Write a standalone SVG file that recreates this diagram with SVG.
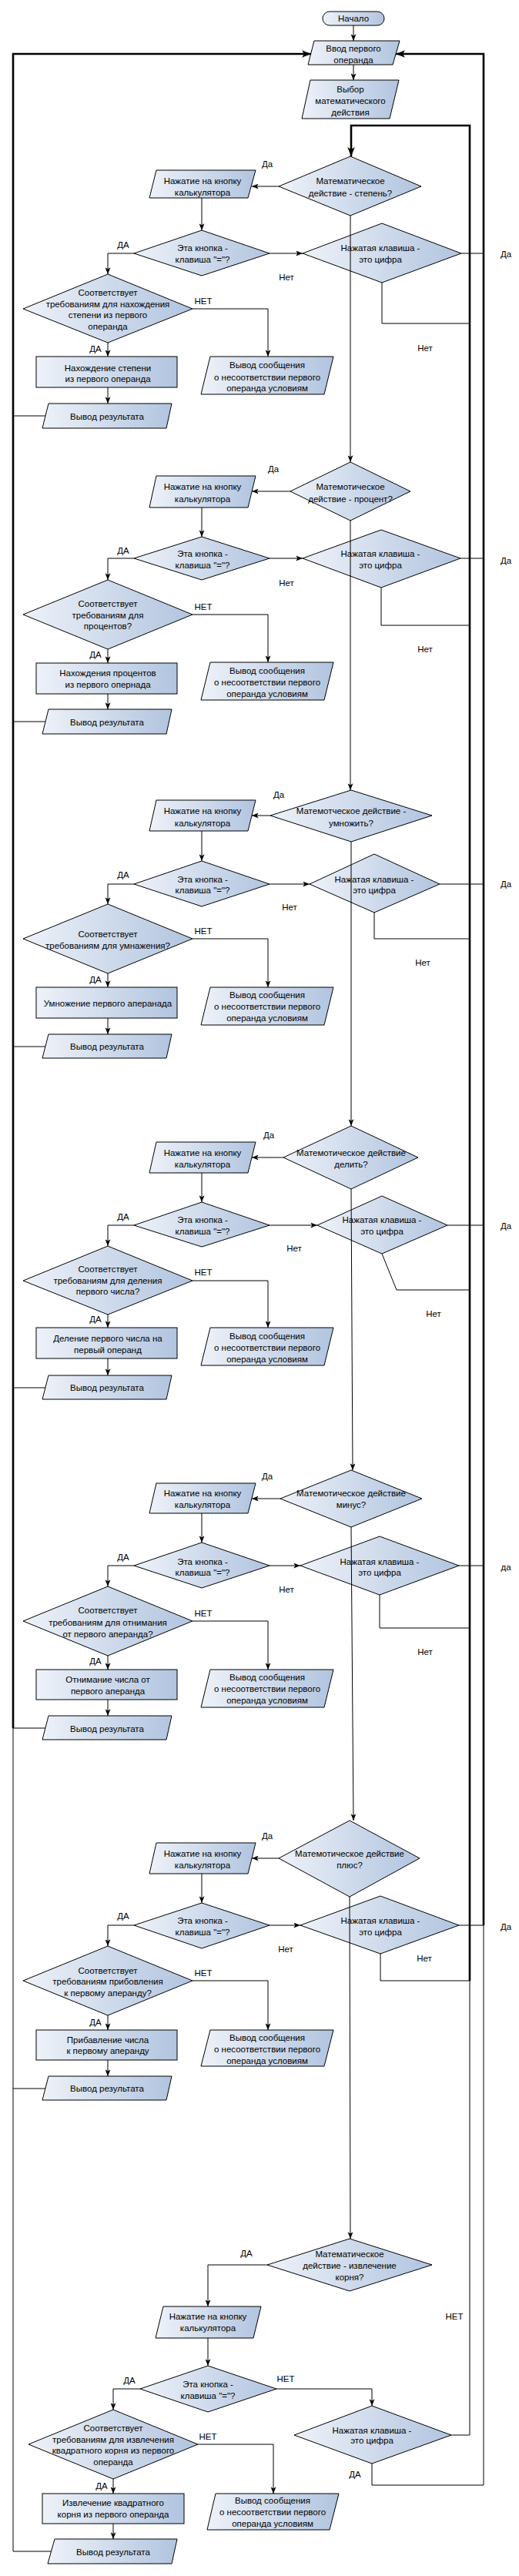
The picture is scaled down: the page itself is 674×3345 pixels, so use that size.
<svg xmlns="http://www.w3.org/2000/svg" width="674" height="3345" viewBox="0 0 674 3345">
<defs>
<linearGradient id="g" x1="0" y1="0" x2="1" y2="0">
<stop offset="0" stop-color="#eef2f9"/>
<stop offset="1" stop-color="#b1c4df"/>
</linearGradient>
<marker id="a" viewBox="0 0 10 8" refX="10" refY="4" markerWidth="9" markerHeight="7" markerUnits="userSpaceOnUse" orient="auto"><path d="M0,0 L10,4 L0,8 L2.5,4 z" fill="#000"/></marker>
<marker id="ak" viewBox="0 0 10 8" refX="10" refY="4" markerWidth="12" markerHeight="10" markerUnits="userSpaceOnUse" orient="auto"><path d="M0,0 L10,4 L0,8 L2.5,4 z" fill="#000"/></marker>
<style>
.n{fill:url(#g);stroke:#000;stroke-width:1}
text{font-family:"Liberation Sans",Arial,sans-serif;font-size:11.5px;fill:#000;text-anchor:middle}
.c{fill:none;stroke:#000;stroke-width:1}
.ca{fill:none;stroke:#000;stroke-width:1;marker-end:url(#a)}
.k{fill:none;stroke:#000;stroke-width:2.6}
.ka{fill:none;stroke:#000;stroke-width:2.6;marker-end:url(#ak)}
</style>
</defs>
<rect width="674" height="3345" fill="#fff"/>

<g id="start"><rect class="n" x="419" y="15" width="80" height="18" rx="9"/><text x="459" y="28">Начало</text></g>
<g id="input"><polygon class="n" points="408,53 519,53 510,84 400,84"/><text x="459" y="67">Ввод первого</text><text x="459" y="82">операнда</text></g>
<g id="choose"><polygon class="n" points="403,104 518,104 506,154 392,154"/><text x="455" y="120">Выбор</text><text x="455" y="135">математического</text><text x="455" y="150">действия</text></g>

<!-- Section 1 -->
<g id="mat1"><polygon class="n" points="455,203 547,242 455,280 362,242"/><text x="455" y="239">Математическое</text><text x="455" y="255">действие - степень?</text></g>
<g id="naz1"><polygon class="n" points="203,221 332,221 322,257 194,257"/><text x="263" y="239">Нажатие на кнопку</text><text x="263" y="254">калькулятора</text></g>
<g id="eta1"><polygon class="n" points="262,299 350,329 262,358 174,329"/><text x="263" y="326">Эта кнопка -</text><text x="263" y="341">клавиша "="?</text></g>
<g id="nazh1"><polygon class="n" points="496,290 599,329 496,367 393,329"/><text x="494" y="326">Нажатая клавиша -</text><text x="494" y="341">это цифра</text></g>
<g id="soot1"><polygon class="n" points="140,356 250,401 140,445 30,401"/><text x="140" y="384">Соответствует</text><text x="140" y="399">требованиям для нахождения</text><text x="140" y="413">степени из первого</text><text x="140" y="428">операнда</text></g>
<g id="vs1"><polygon class="n" points="273,463 433,463 421,512 261,512"/><text x="347" y="478">Вывод сообщения</text><text x="347" y="494">о несоответствии первого</text><text x="347" y="508">операнда условиям</text></g>
<g id="box1"><rect class="n" x="47" y="463" width="183" height="40"/><text x="140" y="482">Нахождение степени</text><text x="140" y="496">из первого операнда</text></g>
<g id="vr1"><polygon class="n" points="63,524 223,524 216,556 55,556"/><text x="139" y="545">Вывод результата</text></g>

<!-- Section 2 -->
<g id="mat2"><polygon class="n" points="455,600 533,638 455,676 377,638"/><text x="455" y="636">Матемотическое</text><text x="455" y="652">действие - процент?</text></g>
<g id="naz2"><polygon class="n" points="203,618 332,618 322,659 194,659"/><text x="263" y="636">Нажатие на кнопку</text><text x="263" y="652">калькулятора</text></g>
<g id="eta2"><polygon class="n" points="262,697 350,725 262,753 174,725"/><text x="263" y="723">Эта кнопка -</text><text x="263" y="738">клавиша "="?</text></g>
<g id="nazh2"><polygon class="n" points="495,688 598,725 495,763 393,725"/><text x="494" y="723">Нажатая клавиша -</text><text x="494" y="738">это цифра</text></g>
<g id="soot2"><polygon class="n" points="140,753 250,798 140,843 30,798"/><text x="140" y="788">Соответствует</text><text x="140" y="803">требованиям для</text><text x="140" y="817">процентов?</text></g>
<g id="vs2"><polygon class="n" points="273,860 433,860 421,909 261,909"/><text x="347" y="875">Вывод сообщения</text><text x="347" y="890">о несоответствии первого</text><text x="347" y="905">операнда условиям</text></g>
<g id="box2"><rect class="n" x="47" y="861" width="183" height="40"/><text x="140" y="878">Нахождения процентов</text><text x="140" y="893">из первого опернада</text></g>
<g id="vr2"><polygon class="n" points="63,921 223,921 216,953 55,953"/><text x="139" y="942">Вывод результата</text></g>

<!-- Section 3 -->
<g id="mat3"><polygon class="n" points="456,1026 561,1059 456,1093 351,1059"/><text x="456" y="1057">Матемотческое действие -</text><text x="456" y="1073">умножить?</text></g>
<g id="naz3"><polygon class="n" points="203,1039 332,1039 322,1079 194,1079"/><text x="263" y="1057">Нажатие на кнопку</text><text x="263" y="1073">калькулятора</text></g>
<g id="eta3"><polygon class="n" points="262,1118 350,1148 262,1177 174,1148"/><text x="263" y="1146">Эта кнопка -</text><text x="263" y="1160">клавиша "="?</text></g>
<g id="nazh3"><polygon class="n" points="486,1109 571,1148 486,1185 402,1148"/><text x="486" y="1146">Нажатая клавиша -</text><text x="486" y="1160">это цифра</text></g>
<g id="soot3"><polygon class="n" points="140,1174 250,1219 140,1264 30,1219"/><text x="140" y="1217">Соответствует</text><text x="140" y="1232">требованиям для умнажения?</text></g>
<g id="vs3"><polygon class="n" points="273,1282 433,1282 421,1331 261,1331"/><text x="347" y="1296">Вывод сообщения</text><text x="347" y="1311">о несоответствии первого</text><text x="347" y="1326">операнда условиям</text></g>
<g id="box3"><rect class="n" x="47" y="1282" width="183" height="40"/><text x="140" y="1307">Умножение первого аперанада</text></g>
<g id="vr3"><polygon class="n" points="63,1343 223,1343 216,1374 55,1374"/><text x="139" y="1363">Вывод результата</text></g>

<!-- Section 4 -->
<g id="mat4"><polygon class="n" points="456,1462 543,1503 456,1544 368,1503"/><text x="456" y="1501">Матемотическое действие</text><text x="456" y="1516">делить?</text></g>
<g id="naz4"><polygon class="n" points="203,1483 332,1483 322,1523 194,1523"/><text x="263" y="1501">Нажатие на кнопку</text><text x="263" y="1516">калькулятора</text></g>
<g id="eta4"><polygon class="n" points="262,1561 350,1591 262,1619 174,1591"/><text x="263" y="1588">Эта кнопка -</text><text x="263" y="1603">клавиша "="?</text></g>
<g id="nazh4"><polygon class="n" points="496,1553 581,1591 496,1628 412,1591"/><text x="496" y="1588">Нажатая клавиша -</text><text x="496" y="1603">это цифра</text></g>
<g id="soot4"><polygon class="n" points="140,1618 250,1663 140,1707 30,1663"/><text x="140" y="1652">Соответствует</text><text x="140" y="1667">требованиям для деления</text><text x="140" y="1681">первого числа?</text></g>
<g id="vs4"><polygon class="n" points="273,1724 433,1724 421,1773 261,1773"/><text x="347" y="1739">Вывод сообщения</text><text x="347" y="1754">о несоответствии первого</text><text x="347" y="1769">операнда условиям</text></g>
<g id="box4"><rect class="n" x="47" y="1724" width="183" height="40"/><text x="140" y="1742">Деление первого числа на</text><text x="140" y="1757">первый операнд</text></g>
<g id="vr4"><polygon class="n" points="63,1786 223,1786 216,1817 55,1817"/><text x="139" y="1806">Вывод результата</text></g>

<!-- Section 5 -->
<g id="mat5"><polygon class="n" points="456,1909 548,1946 456,1983 364,1946"/><text x="456" y="1943">Матемотическое действие</text><text x="456" y="1958">минус?</text></g>
<g id="naz5"><polygon class="n" points="203,1926 332,1926 322,1965 194,1965"/><text x="263" y="1943">Нажатие на кнопку</text><text x="263" y="1958">калькулятора</text></g>
<g id="eta5"><polygon class="n" points="262,2003 350,2033 262,2062 174,2033"/><text x="263" y="2032">Эта кнопка -</text><text x="263" y="2046">клавиша "="?</text></g>
<g id="nazh5"><polygon class="n" points="493,1995 596,2033 493,2071 390,2033"/><text x="493" y="2032">Нажатая клавиша -</text><text x="493" y="2046">это цифра</text></g>
<g id="soot5"><polygon class="n" points="140,2060 250,2105 140,2150 30,2105"/><text x="140" y="2095">Соответствует</text><text x="140" y="2111">требованиям для отнимания</text><text x="140" y="2126">от первого аперанда?</text></g>
<g id="vs5"><polygon class="n" points="273,2168 433,2168 421,2217 261,2217"/><text x="347" y="2182">Вывод сообщения</text><text x="347" y="2197">о несоответствии первого</text><text x="347" y="2212">операнда условиям</text></g>
<g id="box5"><rect class="n" x="47" y="2168" width="183" height="39"/><text x="140" y="2185">Отнимание числа от</text><text x="140" y="2200">первого аперанда</text></g>
<g id="vr5"><polygon class="n" points="63,2228 223,2228 216,2259 55,2259"/><text x="139" y="2249">Вывод результата</text></g>

<!-- Section 6 -->
<g id="mat6"><polygon class="n" points="454,2364 545,2413 454,2463 362,2413"/><text x="454" y="2411">Матемотическое действие</text><text x="454" y="2426">плюс?</text></g>
<g id="naz6"><polygon class="n" points="203,2393 332,2393 322,2433 194,2433"/><text x="263" y="2411">Нажатие на кнопку</text><text x="263" y="2426">калькулятора</text></g>
<g id="eta6"><polygon class="n" points="262,2471 350,2500 262,2530 174,2500"/><text x="263" y="2498">Эта кнопка -</text><text x="263" y="2513">клавиша "="?</text></g>
<g id="nazh6"><polygon class="n" points="494,2462 596,2500 494,2537 390,2500"/><text x="494" y="2498">Нажатая клавиша -</text><text x="494" y="2513">это цифра</text></g>
<g id="soot6"><polygon class="n" points="140,2527 250,2572 140,2617 30,2572"/><text x="140" y="2563">Соответствует</text><text x="140" y="2577">требованиям прибовления</text><text x="140" y="2592">к первому аперанду?</text></g>
<g id="vs6"><polygon class="n" points="273,2636 433,2636 421,2683 261,2683"/><text x="347" y="2650">Вывод сообщения</text><text x="347" y="2665">о несоответствии первого</text><text x="347" y="2680">операнда условиям</text></g>
<g id="box6"><rect class="n" x="47" y="2636" width="183" height="39"/><text x="140" y="2653">Прибавление числа</text><text x="140" y="2667">к первому аперанду</text></g>
<g id="vr6"><polygon class="n" points="63,2696 223,2696 216,2727 55,2727"/><text x="139" y="2716">Вывод результата</text></g>

<!-- Section 7 -->
<g id="mat7"><polygon class="n" points="454,2907 561,2941 454,2975 347,2941"/><text x="454" y="2931">Математическое</text><text x="454" y="2946">действие - извлечение</text><text x="454" y="2961">корня?</text></g>
<g id="naz7"><polygon class="n" points="212,2995 339,2995 329,3036 202,3036"/><text x="270" y="3012">Нажатие на кнопку</text><text x="270" y="3027">калькулятора</text></g>
<g id="eta7"><polygon class="n" points="270,3072 359,3102 270,3132 182,3102"/><text x="270" y="3100">Эта кнопка -</text><text x="270" y="3115">клавиша "="?</text></g>
<g id="nazh7"><polygon class="n" points="483,3124 586,3162 483,3199 382,3162"/><text x="483" y="3160">Нажатая клавиша -</text><text x="483" y="3173">это цифра</text></g>
<g id="soot7"><polygon class="n" points="147,3129 257,3174 147,3219 37,3174"/><text x="147" y="3157">Соответствует</text><text x="147" y="3172">требованиям для извлечения</text><text x="147" y="3186">квадратного корня из первого</text><text x="147" y="3201">операнда</text></g>
<g id="vs7"><polygon class="n" points="280,3238 440,3238 428,3285 269,3285"/><text x="354" y="3251">Вывод сообщения</text><text x="354" y="3266">о несоответствии первого</text><text x="354" y="3281">операнда условиям</text></g>
<g id="box7"><rect class="n" x="55" y="3238" width="184" height="39"/><text x="147" y="3254">Извлечение квадратного</text><text x="147" y="3269">корня из первого операнда</text></g>
<g id="vr7"><polygon class="n" points="71,3297 230,3297 223,3329 62,3329"/><text x="147" y="3318">Вывод результата</text></g>

<g id="connectors">
<path class="ca" d="M459,33 V53"/>
<path class="ca" d="M459,84 V104"/>
<!-- loops -->
<path class="c" d="M17,3313 V2244"/>
<path class="ka" d="M17,2244 V70 H404"/>
<path class="c" d="M628,3227 V2500"/>
<path class="ka" d="M628,2500 V70 H514"/>
<path class="c" d="M610,3162 V2572"/>
<path class="ka" d="M610,2572 V163 H456 V203"/>
<!-- spine -->
<path class="ca" d="M455,280 V600"/>
<path class="ca" d="M455,676 V1026"/>
<path class="ca" d="M456,1093 V1462"/>
<path class="ca" d="M456,1544 L458,1909"/>
<path class="ca" d="M456,1983 L459,2364"/>
<path class="ca" d="M454,2463 L455,2907"/>
<!-- sec1 -->
<path class="ca" d="M362,242 H327"/>
<path class="ca" d="M262,257 V299"/>
<path class="ca" d="M174,329 H140 V356"/>
<path class="ca" d="M350,329 H393"/>
<path class="c" d="M599,329 H628"/>
<path class="c" d="M496,367 V420 H610"/>
<path class="ca" d="M250,401 H348 V463"/>
<path class="ca" d="M140,445 V463"/>
<path class="ca" d="M140,503 V524"/>
<path class="c" d="M59,540 H17"/>
<!-- sec2 -->
<path class="ca" d="M377,638 H327"/>
<path class="ca" d="M262,659 V697"/>
<path class="ca" d="M174,725 H140 V753"/>
<path class="ca" d="M350,725 H393"/>
<path class="c" d="M598,725 H628"/>
<path class="c" d="M495,763 V812 H610"/>
<path class="ca" d="M250,798 H348 V860"/>
<path class="ca" d="M140,843 V861"/>
<path class="ca" d="M140,901 V921"/>
<path class="c" d="M59,937 H17"/>
<!-- sec3 -->
<path class="ca" d="M351,1059 H327"/>
<path class="ca" d="M262,1079 V1118"/>
<path class="ca" d="M174,1148 H140 V1174"/>
<path class="ca" d="M350,1148 H402"/>
<path class="c" d="M571,1148 H628"/>
<path class="c" d="M486,1185 V1219 H610"/>
<path class="ca" d="M250,1219 H348 V1282"/>
<path class="ca" d="M140,1264 V1282"/>
<path class="ca" d="M140,1322 V1343"/>
<path class="c" d="M59,1359 H17"/>
<!-- sec4 -->
<path class="ca" d="M368,1503 H327"/>
<path class="ca" d="M262,1523 V1561"/>
<path class="ca" d="M174,1591 H140 V1618"/>
<path class="ca" d="M350,1591 H412"/>
<path class="c" d="M581,1591 H628"/>
<path class="c" d="M496,1628 L515,1675 H610"/>
<path class="ca" d="M250,1663 H348 V1724"/>
<path class="ca" d="M140,1707 V1724"/>
<path class="ca" d="M140,1764 V1786"/>
<path class="c" d="M59,1802 H17"/>
<!-- sec5 -->
<path class="ca" d="M364,1946 H327"/>
<path class="ca" d="M262,1965 V2003"/>
<path class="ca" d="M174,2033 H140 V2060"/>
<path class="ca" d="M350,2033 H390"/>
<path class="c" d="M596,2033 H628"/>
<path class="c" d="M493,2071 V2114 H610"/>
<path class="ca" d="M250,2105 H348 V2168"/>
<path class="ca" d="M140,2150 V2168"/>
<path class="ca" d="M140,2207 V2228"/>
<path class="c" d="M59,2244 H17"/>
<!-- sec6 -->
<path class="ca" d="M362,2413 H327"/>
<path class="ca" d="M262,2433 V2471"/>
<path class="ca" d="M174,2500 H140 V2527"/>
<path class="ca" d="M350,2500 H390"/>
<path class="c" d="M596,2500 H628"/>
<path class="c" d="M494,2537 V2572 H610"/>
<path class="ca" d="M250,2572 H348 V2636"/>
<path class="ca" d="M140,2617 V2636"/>
<path class="ca" d="M140,2675 V2696"/>
<path class="c" d="M59,2712 H17"/>
<!-- sec7 -->
<path class="ca" d="M347,2941 H270 V2995"/>
<path class="ca" d="M270,3036 V3072"/>
<path class="ca" d="M182,3102 H147 V3129"/>
<path class="ca" d="M359,3102 H483 V3124"/>
<path class="c" d="M586,3162 H610"/>
<path class="c" d="M483,3199 V3227 H628"/>
<path class="ca" d="M257,3174 H355 V3238"/>
<path class="ca" d="M147,3219 V3238"/>
<path class="ca" d="M147,3277 V3297"/>
<path class="c" d="M66,3313 H17"/>
</g>

<g id="labels">
<text x="347" y="217">Да</text><text x="160" y="322">ДА</text><text x="372" y="364">Нет</text><text x="657" y="334">Да</text><text x="552" y="456">Нет</text><text x="264" y="395">НЕТ</text><text x="124" y="457">ДА</text>
<text x="355" y="613">Да</text><text x="160" y="719">ДА</text><text x="372" y="761">Нет</text><text x="657" y="732">Да</text><text x="552" y="847">Нет</text><text x="264" y="792">НЕТ</text><text x="124" y="854">ДА</text>
<text x="362" y="1036">Да</text><text x="160" y="1140">ДА</text><text x="376" y="1182">Нет</text><text x="657" y="1152">Да</text><text x="549" y="1254">Нет</text><text x="264" y="1213">НЕТ</text><text x="124" y="1276">ДА</text>
<text x="349" y="1478">Да</text><text x="160" y="1584">ДА</text><text x="382" y="1625">Нет</text><text x="657" y="1596">Да</text><text x="563" y="1710">Нет</text><text x="264" y="1656">НЕТ</text><text x="124" y="1717">ДА</text>
<text x="347" y="1921">Да</text><text x="160" y="2026">ДА</text><text x="372" y="2068">Нет</text><text x="657" y="2039">да</text><text x="552" y="2149">Нет</text><text x="264" y="2099">НЕТ</text><text x="124" y="2161">ДА</text>
<text x="347" y="2388">Да</text><text x="160" y="2492">ДА</text><text x="371" y="2535">Нет</text><text x="657" y="2506">Да</text><text x="551" y="2547">Нет</text><text x="264" y="2566">НЕТ</text><text x="124" y="2630">ДА</text>
<text x="320" y="2930">ДА</text><text x="590" y="3012">НЕТ</text><text x="168" y="3095">ДА</text><text x="371" y="3093">НЕТ</text><text x="461" y="3217">ДА</text><text x="270" y="3168">НЕТ</text><text x="132" y="3232">ДА</text>
</g>
</svg>
